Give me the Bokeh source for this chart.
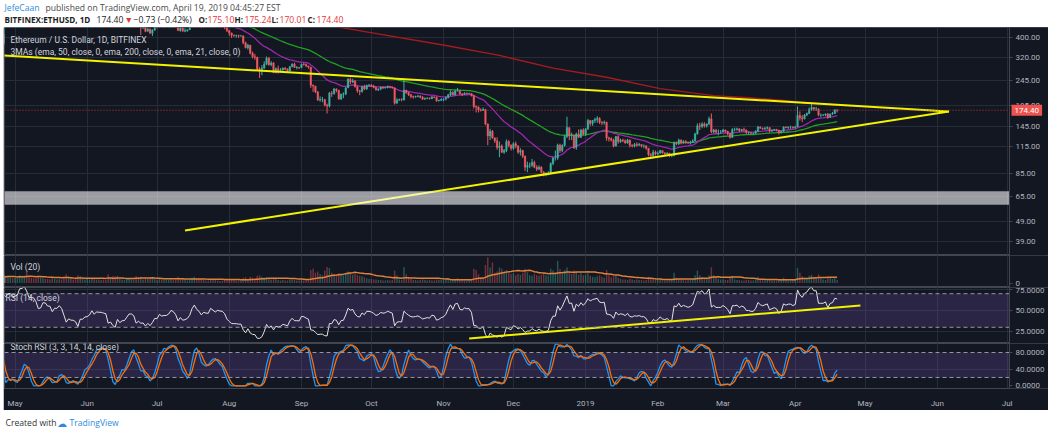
import numpy as np
import pandas as pd
from bokeh.plotting import figure
from bokeh.layouts import column
from bokeh.models import (ColumnDataSource, Range1d, FixedTicker, PrintfTickFormatter,
                          Span, BoxAnnotation, Label)
from bokeh.embed import file_html
from bokeh.resources import INLINE

# ---------------- data (ETH/USD daily, Bitfinex, read/estimated from the chart) ----------------
start_date = "2018-04-01"
end_date = "2019-04-19"
first_open = 396.0

close_2018_04 = [379, 386, 416, 380, 383, 370, 385, 401, 399, 414, 430, 492, 493, 502, 531, 511, 503, 524, 567, 615, 605, 621, 643, 707, 618, 661, 645, 686, 688, 670]
high_2018_04 = [400, 390, 420, 418, 390, 385, 392, 403, 420, 416, 432, 520, 525, 510, 533, 535, 518, 527, 568, 618, 622, 625, 648, 710, 710, 662, 680, 690, 710, 692]
low_2018_04 = [370, 362, 383, 375, 375, 365, 368, 384, 390, 395, 410, 425, 470, 485, 500, 503, 498, 500, 522, 565, 580, 595, 611, 640, 585, 600, 640, 640, 670, 655]
vol_2018_04 = [20, 22, 28, 20, 18, 19, 18, 17, 22, 18, 22, 40, 25, 20, 24, 22, 18, 20, 28, 32, 24, 20, 22, 30, 40, 26, 24, 22, 20, 18]

close_2018_05 = [673, 687, 779, 785, 816, 792, 752, 751, 750, 727, 679, 684, 731, 730, 709, 708, 670, 696, 695, 715, 698, 648, 578, 601, 587, 586, 571, 516, 564, 562, 578]
high_2018_05 = [676, 689, 780, 792, 830, 818, 793, 762, 754, 751, 728, 700, 732, 743, 735, 711, 710, 698, 708, 720, 715, 700, 648, 615, 610, 599, 593, 574, 566, 577, 580]
low_2018_05 = [646, 655, 679, 753, 776, 775, 740, 735, 725, 718, 664, 650, 678, 701, 700, 701, 662, 666, 688, 693, 690, 640, 573, 565, 580, 578, 567, 507, 512, 556, 560]
vol_2018_05 = [20, 18, 30, 24, 28, 44, 26, 20, 18, 18, 28, 22, 18, 16, 16, 14, 18, 16, 14, 15, 14, 22, 34, 24, 20, 14, 15, 30, 26, 16, 14]

close_2018_06 = [580, 591, 619, 593, 609, 606, 606, 601, 597, 524, 530, 496, 476, 519, 487, 498, 499, 518, 537, 537, 525, 464, 474, 456, 457, 429, 441, 420, 435, 455]
high_2018_06 = [592, 595, 626, 621, 610, 611, 611, 609, 607, 599, 533, 532, 498, 522, 521, 499, 510, 521, 540, 540, 540, 527, 476, 476, 461, 459, 445, 442, 439, 456]
low_2018_06 = [567, 574, 590, 588, 586, 596, 599, 592, 592, 518, 516, 490, 467, 470, 480, 482, 496, 484, 513, 524, 524, 460, 457, 412, 440, 425, 429, 417, 407, 433]
vol_2018_06 = [16, 14, 16, 18, 14, 14, 12, 14, 12, 34, 22, 26, 26, 28, 18, 14, 12, 16, 18, 14, 14, 26, 22, 24, 14, 20, 16, 20, 18, 16]

close_2018_07 = [453, 475, 464, 467, 467, 474, 490, 484, 469, 433, 447, 430, 432, 437, 449, 479, 499, 479, 469, 450, 462, 458, 457, 479, 471, 463, 470, 467, 466, 457, 433]
high_2018_07 = [457, 477, 476, 472, 474, 476, 491, 492, 489, 473, 448, 448, 445, 440, 451, 480, 503, 506, 483, 473, 463, 470, 466, 479, 481, 475, 473, 471, 471, 467, 457]
low_2018_07 = [444, 452, 459, 460, 460, 465, 473, 481, 465, 431, 427, 428, 425, 427, 437, 449, 475, 477, 461, 445, 446, 455, 450, 457, 467, 456, 455, 462, 462, 440, 426]
vol_2018_07 = [12, 16, 14, 12, 12, 12, 14, 12, 14, 24, 16, 18, 14, 10, 12, 20, 24, 18, 16, 18, 12, 10, 10, 14, 12, 12, 10, 8, 9, 12, 16]

close_2018_08 = [421, 410, 409, 409, 407, 407, 377, 356, 366, 334, 321, 319, 279, 278, 282, 295, 316, 293, 299, 268, 280, 274, 276, 282, 279, 273, 287, 295, 284, 284, 283]
high_2018_08 = [434, 423, 414, 413, 413, 412, 410, 381, 372, 368, 341, 332, 321, 285, 291, 305, 322, 320, 305, 302, 284, 290, 282, 284, 285, 281, 288, 298, 300, 289, 286]
low_2018_08 = [408, 398, 403, 400, 398, 405, 370, 353, 348, 330, 315, 310, 275, 252, 260, 280, 292, 290, 288, 266, 266, 265, 270, 274, 275, 270, 272, 285, 283, 278, 279]
vol_2018_08 = [16, 14, 12, 10, 10, 10, 20, 22, 16, 24, 20, 16, 28, 30, 24, 20, 22, 18, 14, 20, 16, 12, 10, 12, 10, 10, 12, 14, 12, 10, 10]

close_2018_09 = [295, 294, 289, 285, 232, 230, 215, 196, 197, 197, 185, 183, 212, 211, 222, 219, 198, 209, 210, 225, 248, 241, 244, 228, 218, 216, 228, 222, 232, 232]
high_2018_09 = [297, 299, 297, 290, 285, 234, 230, 217, 204, 203, 198, 188, 215, 217, 225, 224, 220, 211, 214, 227, 252, 253, 250, 245, 230, 220, 230, 233, 233, 235]
low_2018_09 = [283, 290, 285, 280, 225, 215, 212, 194, 192, 191, 182, 168, 180, 203, 208, 214, 197, 196, 200, 207, 225, 235, 238, 226, 213, 207, 213, 219, 220, 228]
vol_2018_09 = [12, 10, 12, 14, 50, 55, 40, 45, 35, 30, 48, 62, 58, 40, 35, 30, 38, 34, 30, 40, 45, 42, 32, 36, 30, 28, 26, 22, 18, 16]

close_2018_10 = [230, 226, 220, 222, 227, 225, 226, 229, 227, 225, 189, 196, 197, 196, 219, 213, 208, 204, 203, 204, 205, 202, 198, 199, 200, 199, 203, 202, 194, 195, 197]
high_2018_10 = [235, 233, 228, 224, 228, 228, 228, 231, 230, 228, 226, 200, 199, 200, 250, 220, 215, 210, 206, 206, 208, 207, 205, 202, 202, 202, 205, 204, 204, 197, 200]
low_2018_10 = [227, 224, 218, 217, 219, 222, 223, 224, 224, 223, 186, 188, 194, 193, 195, 210, 205, 200, 199, 201, 202, 200, 196, 196, 198, 197, 198, 200, 192, 193, 194]
vol_2018_10 = [16, 14, 14, 12, 12, 10, 10, 12, 10, 12, 48, 30, 14, 12, 62, 34, 20, 16, 12, 12, 10, 12, 14, 12, 10, 12, 10, 10, 14, 12, 12]

close_2018_11 = [198, 201, 208, 214, 208, 217, 218, 210, 209, 212, 211, 211, 206, 182, 181, 175, 174, 176, 149, 130, 137, 127, 123, 114, 116, 108, 110, 122, 117, 113]
high_2018_11 = [200, 204, 210, 218, 216, 220, 225, 219, 212, 214, 213, 213, 212, 208, 184, 182, 178, 180, 177, 150, 141, 139, 128, 128, 122, 118, 112, 125, 124, 118]
low_2018_11 = [193, 195, 200, 205, 206, 206, 216, 208, 205, 208, 209, 209, 204, 178, 170, 170, 172, 173, 147, 117, 124, 126, 120, 111, 102, 107, 106, 108, 114, 110]
vol_2018_11 = [12, 12, 14, 16, 14, 16, 18, 16, 12, 10, 10, 12, 14, 55, 50, 34, 22, 20, 70, 100, 60, 79, 40, 45, 60, 55, 45, 50, 40, 35]

close_2018_12 = [119, 116, 108, 110, 103, 91, 93, 93, 96, 91, 89, 91, 86, 84, 84, 85, 95, 101, 101, 117, 110, 117, 129, 143, 130, 131, 114, 133, 128, 139, 133]
high_2018_12 = [121, 122, 117, 113, 111, 104, 97, 96, 100, 98, 93, 93, 92, 87, 86, 87, 96, 102, 110, 119, 119, 118, 131, 162, 143, 135, 132, 135, 140, 141, 142]
low_2018_12 = [111, 113, 106, 104, 101, 87, 86, 90, 91, 90, 87, 88, 85, 82, 82, 83, 84, 93, 98, 99, 107, 108, 115, 127, 124, 124, 112, 111, 127, 127, 131]
vol_2018_12 = [38, 30, 36, 32, 40, 55, 42, 30, 28, 36, 30, 28, 32, 38, 30, 28, 55, 48, 40, 85, 54, 40, 50, 60, 42, 35, 48, 45, 32, 38, 30]

close_2019_01 = [141, 155, 150, 155, 157, 159, 152, 151, 152, 127, 126, 124, 116, 129, 122, 124, 123, 120, 124, 117, 116, 118, 117, 118, 116, 116, 113, 105, 104, 108, 106]
high_2019_01 = [142, 158, 156, 156, 160, 163, 161, 154, 155, 153, 129, 128, 126, 130, 131, 126, 126, 125, 126, 125, 118, 120, 121, 120, 118, 118, 117, 113, 107, 111, 110]
low_2019_01 = [130, 139, 146, 146, 151, 151, 149, 147, 148, 123, 122, 122, 114, 115, 119, 120, 121, 119, 119, 114, 114, 114, 115, 116, 114, 113, 111, 103, 101, 102, 104]
vol_2019_01 = [32, 38, 28, 24, 22, 26, 30, 24, 20, 50, 30, 22, 26, 28, 20, 16, 14, 14, 12, 16, 14, 12, 14, 12, 12, 10, 12, 24, 20, 18, 14]

close_2019_02 = [107, 110, 107, 106, 107, 104, 104, 120, 119, 124, 120, 122, 121, 120, 121, 123, 133, 146, 145, 149, 146, 149, 158, 136, 139, 136, 136, 136]
high_2019_02 = [109, 111, 110, 108, 108, 107, 105, 122, 122, 126, 125, 124, 124, 122, 123, 125, 135, 150, 151, 152, 152, 150, 162, 168, 141, 141, 140, 139]
low_2019_02 = [104, 106, 106, 104, 104, 102, 102, 103, 117, 117, 118, 119, 119, 119, 118, 120, 122, 132, 139, 142, 143, 143, 147, 134, 134, 133, 131, 133]
vol_2019_02 = [12, 12, 12, 10, 10, 12, 12, 40, 20, 16, 14, 14, 10, 12, 12, 14, 30, 48, 30, 22, 18, 16, 30, 61, 30, 24, 16, 14]

close_2019_03 = [139, 137, 134, 128, 140, 140, 141, 138, 140, 139, 135, 135, 134, 134, 137, 144, 142, 141, 142, 143, 138, 139, 140, 139, 135, 137, 144, 143, 144, 144, 143]
high_2019_03 = [141, 140, 138, 134, 142, 143, 143, 142, 141, 143, 140, 137, 136, 135, 139, 146, 145, 143, 144, 145, 143, 140, 141, 141, 139, 138, 145, 145, 145, 146, 145]
low_2019_03 = [136, 135, 131, 126, 127, 137, 138, 136, 137, 137, 133, 132, 132, 132, 133, 136, 141, 139, 139, 140, 135, 136, 138, 137, 132, 134, 136, 142, 141, 141, 141]
vol_2019_03 = [14, 12, 12, 22, 28, 14, 12, 12, 10, 10, 12, 12, 10, 10, 14, 24, 16, 12, 12, 12, 14, 10, 10, 10, 14, 12, 20, 12, 10, 10, 12]

close_2019_04 = [144, 164, 160, 158, 165, 168, 176, 180, 177, 177, 165, 165, 165, 167, 161, 167, 168, 175.1, 174.4]
high_2019_04 = [146, 182, 172, 165, 167, 170, 180, 187, 181, 181, 178, 168, 167, 168, 169, 168, 171, 176, 175.24]
low_2019_04 = [141, 144, 155, 152, 157, 163, 167, 173, 173, 173, 163, 161, 163, 163, 158, 160, 165, 167, 170.01]
vol_2019_04 = [12, 58, 40, 26, 20, 18, 28, 32, 24, 20, 34, 18, 14, 12, 20, 22, 16, 18, 12]

# EMA 200 (red) at a few dates
ema200_dates = ["2018-08-31", "2018-09-22", "2018-11-02", "2018-11-25", "2018-12-18", "2019-01-10",
                "2019-02-02", "2019-02-25", "2019-03-12", "2019-03-27", "2019-04-03", "2019-04-19"]
ema200_values = [487, 440, 365, 326, 282, 254, 223, 206, 201, 195, 191, 185]

# hand-drawn trendlines
upper_trend_dates = ["2018-04-20", "2019-06-06"]
upper_trend_prices = [329, 172]
lower_trend_dates = ["2018-07-13", "2019-06-06"]
lower_trend_prices = [44.2, 172]
rsi_trend_dates = ["2018-11-12", "2019-04-29"]
rsi_trend_values = [16.7, 56.0]

support_zone = [59.5, 69.0]
last_price = 174.40

price_ticks = [39, 49, 65, 85, 115, 145, 185, 245, 320, 400]
month_starts = ["2018-05-01", "2018-06-01", "2018-07-01", "2018-08-01", "2018-09-01", "2018-10-01",
                "2018-11-01", "2018-12-01", "2019-01-01", "2019-02-01", "2019-03-01", "2019-04-01",
                "2019-05-01", "2019-06-01", "2019-07-01"]
month_labels = ["May", "Jun", "Jul", "Aug", "Sep", "Oct", "Nov", "Dec", "2019", "Feb", "Mar", "Apr",
                "May", "Jun", "Jul"]

# visible time window and where the price scale sits
view_start = "2018-04-26 11:45"
view_end = "2019-07-02 00:00"
canvas_end = "2019-07-18 18:00"   # extent that covers the price-scale column too

# ---------------- assemble ----------------
months_keys = ["2018_04", "2018_05", "2018_06", "2018_07", "2018_08", "2018_09", "2018_10",
               "2018_11", "2018_12", "2019_01", "2019_02", "2019_03", "2019_04"]
g = globals()
close = np.array(sum([g["close_" + k] for k in months_keys], []), dtype=float)
high = np.array(sum([g["high_" + k] for k in months_keys], []), dtype=float)
low = np.array(sum([g["low_" + k] for k in months_keys], []), dtype=float)
vol = np.array(sum([g["vol_" + k] for k in months_keys], []), dtype=float)
for k in months_keys:
    assert len(g["close_" + k]) == len(g["high_" + k]) == len(g["low_" + k]) == len(g["vol_" + k]), k

dates = pd.date_range(start_date, end_date, freq="D")
assert len(dates) == len(close), (len(dates), len(close))
open_ = np.concatenate([[first_open], close[:-1]])
high = np.maximum(high, np.maximum(open_, close))
low = np.minimum(low, np.minimum(open_, close))
up = close >= open_

cs = pd.Series(close)
ema21 = cs.ewm(span=21, adjust=False).mean().values
ema50 = cs.ewm(span=50, adjust=False).mean().values
vol_ma = pd.Series(vol).rolling(20, min_periods=1).mean().values

delta = cs.diff().fillna(0.0)
gain = delta.clip(lower=0).ewm(alpha=1 / 14, adjust=False).mean()
loss = (-delta).clip(lower=0).ewm(alpha=1 / 14, adjust=False).mean()
rsi = 100 - 100 / (1 + gain / loss)
rmin = rsi.rolling(14).min()
rmax = rsi.rolling(14).max()
stoch = (rsi - rmin) / (rmax - rmin) * 100
k_line = stoch.rolling(3).mean()
d_line = k_line.rolling(3).mean()

# ---------------- style ----------------
BG = "#131722"
GRID = "#272c39"
SEP = "#434651"
TXT = "#b2b5be"
LEG = "#d1d4dc"
UP = "#3fb1a2"
DN = "#ee5a62"
FONT = "Roboto"
DAY = 86400000

epoch = pd.Timestamp("1970-01-01")


def to_ms(s):
    return float((pd.Timestamp(s) - epoch) / pd.Timedelta("1ms"))


axis_x = to_ms(view_end)
x_range = Range1d(start=pd.Timestamp(view_start), end=pd.Timestamp(canvas_end))
month_ms = [to_ms(m) for m in month_starts]
month_ticker = FixedTicker(ticks=month_ms)


def pane(height, y_range, y_type="linear", bottom=0):
    p = figure(width=1045, height=height + bottom, x_axis_type="datetime", y_axis_type=y_type,
               x_range=x_range, y_range=y_range, y_axis_location="right",
               toolbar_location=None, output_backend="svg",
               min_border_left=1, min_border_right=0, min_border_top=0, min_border_bottom=bottom,
               background_fill_color=BG, border_fill_color=BG, outline_line_color=SEP,
               margin=(0, 2, 0, 3))
    p.xgrid.ticker = month_ticker
    p.xgrid.grid_line_color = GRID
    ax = p.yaxis[0]
    ax.fixed_location = axis_x
    ax.level = "overlay"
    ax.axis_line_color = SEP
    ax.major_tick_line_color = SEP
    ax.major_tick_out = 3
    ax.major_tick_in = 0
    ax.minor_tick_line_color = None
    ax.major_label_text_color = TXT
    ax.major_label_text_font = FONT
    ax.major_label_text_font_size = "8px"
    ax.major_label_standoff = 3
    return p


def mask_scale_column(p):
    # the price-scale column is plain background (no grid, bands or levels run under it)
    p.add_layout(BoxAnnotation(left=axis_x, fill_color=BG, fill_alpha=1.0, line_color=None))


def legend(p, x, y, text, size="8.5px", color=LEG):
    p.add_layout(Label(x=x, y=y, x_units="screen", y_units="screen", text=text, text_color=color,
                       text_font=FONT, text_font_size=size, text_baseline="middle"))


# ---- main price pane ----
main = pane(228, Range1d(33.2, 448.4), "log")
main.xaxis.visible = False
main.yaxis.ticker = FixedTicker(ticks=price_ticks)
main.ygrid.ticker = FixedTicker(ticks=price_ticks)
main.ygrid.grid_line_color = GRID
main.yaxis.formatter = PrintfTickFormatter(format="%.2f")

src = ColumnDataSource(dict(x=dates, top=np.maximum(open_, close), bottom=np.minimum(open_, close),
                            high=high, low=low, color=np.where(up, UP, DN), vol=vol,
                            ema21=ema21, ema50=ema50, vol_ma=vol_ma, rsi=rsi.values,
                            k=k_line.values, d=d_line.values))
main.line(pd.to_datetime(ema200_dates), ema200_values, line_color="#a31c1c", line_width=1.4)
main.line("x", "ema50", source=src, line_color="#21a121", line_width=1.3)
main.line("x", "ema21", source=src, line_color="#9c27b0", line_width=1.3)
main.segment(x0="x", y0="low", x1="x", y1="high", source=src, line_color="color", line_width=1)
main.vbar(x="x", top="top", bottom="bottom", width=0.62 * DAY, source=src,
          fill_color="color", line_color="color", line_width=0.5)
main.line(pd.to_datetime(upper_trend_dates), upper_trend_prices, line_color="#f3f300", line_width=2)
main.line(pd.to_datetime(lower_trend_dates), lower_trend_prices, line_color="#f3f300", line_width=2)
main.add_layout(BoxAnnotation(bottom=support_zone[0], top=support_zone[1], fill_color="white",
                              fill_alpha=0.58, line_color="#d0d0d0", line_width=1))
main.add_layout(Span(location=last_price, dimension="width", line_color="#c23b3b",
                     line_dash="1 2", line_width=1))
mask_scale_column(main)
main.add_layout(Label(x=axis_x, y=last_price, x_units="data", y_units="data", text="174.40",
                      x_offset=2, text_color="white", text_font=FONT, text_font_size="8px",
                      text_baseline="middle", background_fill_color="#ef5350",
                      background_fill_alpha=1.0, level="overlay", padding=3))
legend(main, 6, 216, "Ethereum / U.S. Dollar, 1D, BITFINEX")
legend(main, 6, 204, "3MAs (ema, 50, close, 0, ema, 200, close, 0, ema, 21, close, 0)")

# ---- volume pane ----
volp = pane(32, Range1d(-17.4, 106.6))
volp.xaxis.visible = False
volp.ygrid.visible = False
volp.yaxis.ticker = FixedTicker(ticks=[0])
volp.yaxis.formatter = PrintfTickFormatter(format="%d")
volp.vbar(x="x", top="vol", bottom=0, width=0.62 * DAY, source=src, fill_color="color",
          line_color=None, fill_alpha=0.42)
volp.line("x", "vol_ma", source=src, line_color="#e0813a", line_width=1.5)
mask_scale_column(volp)
legend(volp, 6, 21, "Vol (20)")

# ---- RSI pane ----
rsip = pane(56, Range1d(10.7, 77.4))
rsip.xaxis.visible = False
rsip.yaxis.ticker = FixedTicker(ticks=[25, 50, 75])
rsip.ygrid.ticker = FixedTicker(ticks=[25, 50, 75])
rsip.ygrid.grid_line_color = GRID
rsip.yaxis.formatter = PrintfTickFormatter(format="%.4f")
rsip.add_layout(BoxAnnotation(bottom=30, top=70, fill_color="#7e57c2", fill_alpha=0.22,
                              line_color=None, level="underlay"))
for lv in (30, 70):
    rsip.add_layout(Span(location=lv, dimension="width", line_color="#9598a1",
                         line_dash="4 3", line_width=1))
rsip.line("x", "rsi", source=src, line_color="#e3e3e3", line_width=1)
rsip.line(pd.to_datetime(rsi_trend_dates), rsi_trend_values, line_color="#f3f300", line_width=2)
mask_scale_column(rsip)
legend(rsip, 1, 46, "RSI (14, close)")

# ---- Stoch RSI pane (with time axis) ----
stp = pane(50, Range1d(-6.5, 101.6), bottom=17)
stp.yaxis.ticker = FixedTicker(ticks=[0, 40, 80])
stp.ygrid.ticker = FixedTicker(ticks=[40])
stp.ygrid.grid_line_color = GRID
stp.yaxis.formatter = PrintfTickFormatter(format="%.4f")
stp.add_layout(BoxAnnotation(bottom=20, top=80, fill_color="#7e57c2", fill_alpha=0.22,
                             line_color=None, level="underlay"))
for lv in (20, 80):
    stp.add_layout(Span(location=lv, dimension="width", line_color="#9598a1",
                        line_dash="4 3", line_width=1))
stp.line("x", "k", source=src, line_color="#2196f3", line_width=1.3)
stp.line("x", "d", source=src, line_color="#ff6d00", line_width=1.3)
mask_scale_column(stp)
legend(stp, 6, 42, "Stoch RSI (3, 3, 14, 14, close)")
xa = stp.xaxis[0]
xa.ticker = month_ticker
xa.major_label_overrides = {t: lab for t, lab in zip(month_ms, month_labels)}
xa.axis_line_color = SEP
xa.major_tick_line_color = None
xa.minor_tick_line_color = None
xa.major_label_text_color = TXT
xa.major_label_text_font = FONT
xa.major_label_text_font_size = "8px"
xa.major_label_standoff = 4

# ---- header & footer ----
def blank(height):
    p = figure(width=1050, height=height, x_range=(0, 1), y_range=(0, 1), toolbar_location=None,
               output_backend="svg", min_border=0, outline_line_color=None,
               background_fill_color="white", border_fill_color="white")
    p.axis.visible = False
    p.grid.visible = False
    return p


def htext(p, x, y, text, color="#4a4a4a", size="8.6px", bold=False):
    p.add_layout(Label(x=x, y=y, x_units="screen", y_units="screen", text=text, text_color=color,
                       text_font="Open Sans", text_font_size=size,
                       text_font_style="bold" if bold else "normal", text_baseline="middle"))


head = blank(27)
htext(head, 3, 20, "JefeCaan", color="#2e8bdb")
htext(head, 44, 20, "published on TradingView.com, April 19, 2019 04:45:27 EST")
RED = "#e0363c"
htext(head, 3, 8, "BITFINEX:ETHUSD, 1D", color="#222222", size="8.1px", bold=True)
htext(head, 95, 8, "174.40", color="#222222")
htext(head, 123, 8, "▼", color=RED)
htext(head, 132, 8, "−0.73 (−0.42%)", color="#222222")
for lx, lab, vx, val in [(197, "O:", 206, "175.10"), (233, "H:", 243, "175.24"),
                         (270, "L:", 278, "170.01"), (306, "C:", 315, "174.40")]:
    htext(head, lx, 8, lab, color="#222222", size="8.1px", bold=True)
    htext(head, vx, 8, val, color=RED)

foot = blank(24)
htext(foot, 4, 12, "Created with", color="#333333")
htext(foot, 55, 12, "☁", color="#2e8bdb", size="10px")
htext(foot, 68, 12, "TradingView", color="#2e8bdb")

layout = column(head, main, volp, rsip, stp, foot, spacing=0)
open("out.html", "w").write(file_html(layout, INLINE))
